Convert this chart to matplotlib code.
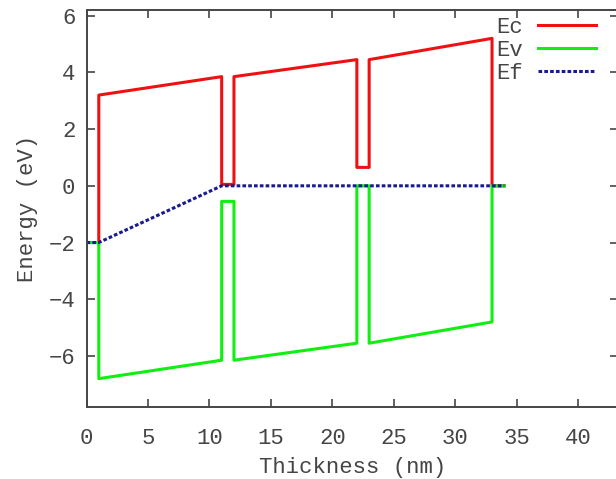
"""Band diagram: Ec / Ev / Ef versus thickness (gnuplot look)."""
import matplotlib
matplotlib.use("Agg")
import matplotlib.pyplot as plt

# Conduction band edge
ec_x = [0, 1, 1, 11, 11, 12, 12, 22, 22, 23, 23, 33, 33, 34]
ec_y = [-2, -2, 3.2, 3.85, 0.05, 0.05, 3.85, 4.45, 0.65, 0.65, 4.45, 5.2, 0, 0]

# Valence band edge
ev_x = [0, 1, 1, 11, 11, 12, 12, 22, 22, 23, 23, 33, 33, 34]
ev_y = [-2, -2, -6.8, -6.15, -0.55, -0.55, -6.15, -5.55, 0, 0, -5.55, -4.8, 0, 0]

# Fermi level
ef_x = [0, 1, 11, 34]
ef_y = [-2, -2, 0, 0]

x_ticks = [0, 5, 10, 15, 20, 25, 30, 35, 40]
y_ticks = [-6, -4, -2, 0, 2, 4, 6]

TXT = "#454545"
plt.rcParams["font.family"] = ["Liberation Mono", "DejaVu Sans Mono"]
plt.rcParams["font.size"] = 16

W, H = 616, 479
fig = plt.figure(figsize=(W / 100, H / 100), dpi=100)
# axes box in pixels: left 86.5, right 618 (just past the crop), top 10, bottom 407
ax = fig.add_axes([86.5 / W, (H - 407) / H, (618 - 86.5) / W, (407 - 10) / H])

ax.plot(ec_x, ec_y, color="#ee1111", linewidth=2.2, label="Ec")
ax.plot(ev_x, ev_y, color="#11ee11", linewidth=2.2, label="Ev")
ax.plot(ef_x, ef_y, color="#1a1a90", linewidth=2.2, linestyle=(0, (1.2, 0.7)), label="Ef")

ax.set_xlim(0, 43.25)
ax.set_ylim(-7.8, 6.2)
ax.set_xticks(x_ticks)
ax.set_yticks(y_ticks)
ax.tick_params(direction="in", top=True, right=True, length=6, width=1.2,
               colors=TXT, labelcolor=TXT, pad=8)
ax.tick_params(axis="x", pad=15)
for s in ax.spines.values():
    s.set_color(TXT)
    s.set_linewidth(1.4)

ax.set_xlabel("Thickness (nm)", color=TXT, labelpad=6)
ax.set_ylabel("Energy (eV)", color=TXT, labelpad=8)

leg = ax.legend(loc="upper right", bbox_to_anchor=(596 / W, (H - 17) / H),
                bbox_transform=fig.transFigure, frameon=False, markerfirst=False,
                handlelength=2.6, handletextpad=0.7, labelspacing=0.08,
                borderpad=0, borderaxespad=0)
for t in leg.get_texts():
    t.set_color(TXT)

fig.savefig("out.png", dpi=100)
